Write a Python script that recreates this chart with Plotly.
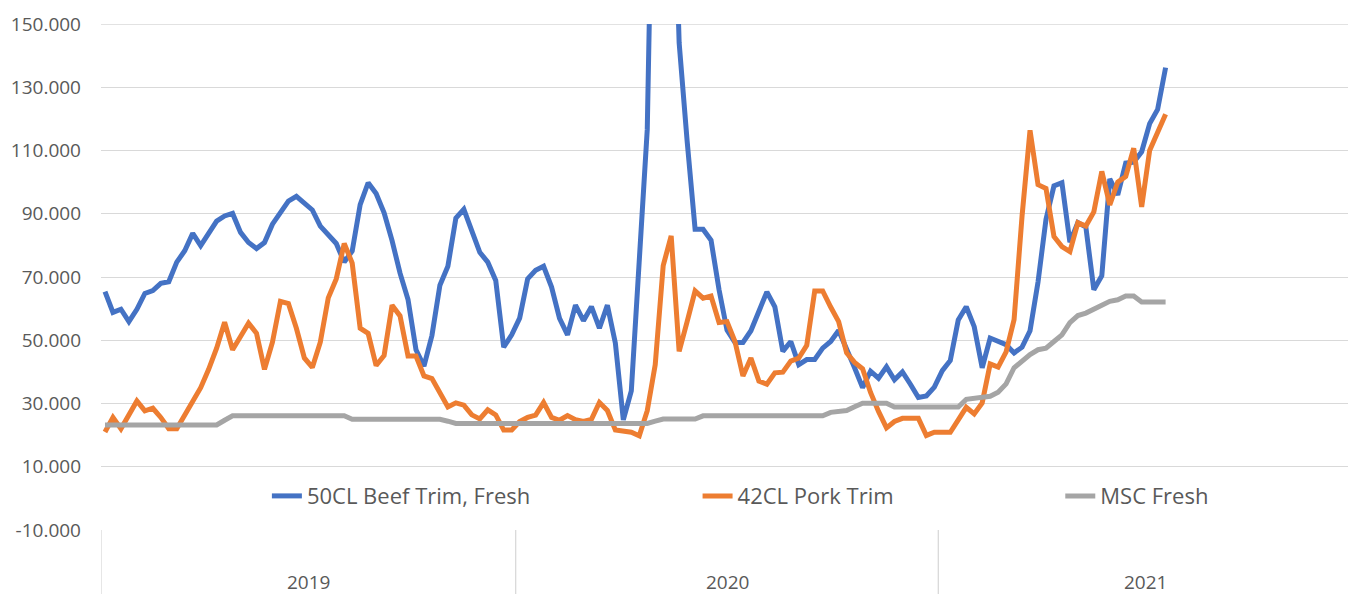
import plotly.graph_objects as go

# ---------------- data ----------------
YEARS = ["2019", "2020", "2021"]
WEEKS_PER_YEAR = [52, 53, 52]

SERIES_NAMES = ["50CL Beef Trim, Fresh", "42CL Pork Trim", "MSC Fresh"]

BEEF_50CL = [
    65.4, 58.8, 59.8, 55.9, 59.8, 64.8, 65.7, 68.0, 68.5, 74.7,
    78.3, 83.8, 79.9, 84.1, 87.7, 89.3, 90.1, 84.1, 80.9, 79.0,
    80.9, 86.7, 90.5, 94.0, 95.5, 93.3, 91.2, 86.1, 83.6, 80.6,
    74.7, 78.2, 92.9, 99.8, 96.4, 90.3, 81.5, 71.2, 62.9, 47.0,
    41.8, 51.5, 67.4, 73.4, 88.6, 91.4, 84.6, 77.8, 74.7, 68.9,
    47.8, 51.7, 57.0, 69.4, 72.1, 73.4, 66.8, 56.9, 51.7, 61.1,
    56.2, 60.6, 53.8, 61.1, 49.1, 24.8, 34.0, 74.0, 116.6, 250.0,
    262.0, 228.0, 144.0, 113.0, 85.1, 85.1, 81.6, 66.0, 53.2, 49.3,
    49.3, 53.0, 59.6, 65.3, 60.6, 46.5, 49.6, 42.3, 43.9, 43.9,
    47.5, 49.6, 53.1, 47.5, 41.3, 35.0, 40.2, 38.0, 41.6, 37.5,
    40.0, 36.1, 31.9, 32.4, 35.2, 40.4, 43.6, 56.4, 60.6, 54.3,
    41.3, 50.7, 49.6, 48.6, 46.0, 47.8, 53.0, 68.4, 88.2, 98.8,
    99.8, 81.0, 87.2, 85.8, 66.0, 70.4, 101.0, 96.0, 106.0, 106.3,
    109.6, 118.5, 123.0, 136.2,
]

PORK_42CL = [
    21.0, 25.6, 22.0, 26.5, 30.8, 27.7, 28.5, 25.6, 22.0, 22.0,
    26.2, 30.8, 35.0, 40.8, 47.5, 55.7, 47.0, 51.2, 55.4, 52.2,
    40.8, 49.4, 62.3, 61.6, 53.8, 44.4, 41.4, 49.4, 63.4, 69.4,
    80.6, 74.4, 53.8, 52.2, 42.0, 45.2, 61.1, 57.7, 45.0, 45.0,
    38.7, 37.9, 33.5, 28.9, 30.2, 29.5, 26.4, 25.1, 28.0, 26.4,
    21.6, 21.6, 24.3, 25.6, 26.3, 30.3, 25.6, 24.7, 26.2, 24.9,
    24.3, 25.0, 30.3, 27.8, 21.6, 21.4, 20.9, 19.8, 27.7, 42.3,
    73.6, 83.0, 46.5, 55.9, 65.6, 63.3, 64.0, 55.6, 55.9, 49.6,
    38.7, 44.4, 37.1, 36.1, 39.7, 39.9, 43.4, 44.4, 48.4, 65.6,
    65.6, 60.5, 55.9, 46.0, 43.0, 41.0, 33.5, 27.5, 22.3, 24.3,
    25.3, 25.3, 25.3, 19.9, 20.9, 20.9, 20.9, 24.8, 28.8, 26.7,
    30.2, 42.5, 41.5, 46.3, 56.5, 89.3, 116.4, 99.2, 98.0, 82.8,
    79.6, 78.0, 87.2, 86.1, 90.6, 103.4, 92.8, 100.0, 101.8, 110.7,
    92.2, 110.0, 115.6, 121.5,
]

MSC_FRESH = [
    23.2, 23.2, 23.2, 23.2, 23.2, 23.2, 23.2, 23.2, 23.2, 23.2,
    23.2, 23.2, 23.2, 23.2, 23.2, 24.7, 26.1, 26.1, 26.1, 26.1,
    26.1, 26.1, 26.1, 26.1, 26.1, 26.1, 26.1, 26.1, 26.1, 26.1,
    26.1, 25.0, 25.0, 25.0, 25.0, 25.0, 25.0, 25.0, 25.0, 25.0,
    25.0, 25.0, 25.0, 24.4, 23.7, 23.7, 23.7, 23.7, 23.7, 23.7,
    23.7, 23.7, 23.7, 23.7, 23.7, 23.7, 23.7, 23.7, 23.7, 23.7,
    23.7, 23.7, 23.7, 23.7, 23.7, 23.7, 23.7, 23.7, 23.7, 24.4,
    25.1, 25.1, 25.1, 25.1, 25.1, 26.1, 26.1, 26.1, 26.1, 26.1,
    26.1, 26.1, 26.1, 26.1, 26.1, 26.1, 26.1, 26.1, 26.1, 26.1,
    26.1, 27.2, 27.5, 27.8, 29.0, 30.1, 30.1, 30.1, 30.1, 28.9,
    28.9, 28.9, 28.9, 28.9, 28.9, 28.9, 28.9, 28.9, 31.3, 31.6,
    31.9, 32.3, 33.6, 36.2, 41.3, 43.5, 45.5, 47.0, 47.5, 49.6,
    51.7, 55.6, 57.8, 58.6, 60.0, 61.1, 62.3, 62.8, 64.0, 64.0,
    62.1, 62.1, 62.1, 62.1,
]

Y_TICKS = [-10, 10, 30, 50, 70, 90, 110, 130, 150]

# ---------------- style ----------------
COLORS = ["#4472C4", "#ED7D31", "#A5A5A5"]
FONT = "Open Sans"
TEXT_COLOR = "#595959"
GRID_COLOR = "#D9D9D9"

# category labels: one per week, grouped by year
week_labels = []
for yr, n in zip(YEARS, WEEKS_PER_YEAR):
    for w in range(1, n + 1):
        week_labels.append(f"{yr} W{w:02d}")

fig = go.Figure()
legend_ids = ["legend", "legend2", "legend3"]
for name, vals, color, lg in zip(SERIES_NAMES, [BEEF_50CL, PORK_42CL, MSC_FRESH], COLORS, legend_ids):
    fig.add_trace(go.Scatter(
        x=week_labels[:len(vals)], y=vals, mode="lines", name=name,
        line=dict(color=color, width=5), legend=lg,
    ))

# year group dividers and labels below the plot
shapes = []
annotations = []
start = 0
bounds = [-0.5]
for yr, n in zip(YEARS, WEEKS_PER_YEAR):
    annotations.append(dict(
        x=start + (n - 1) / 2, y=-0.102, xref="x", yref="paper",
        text=yr, showarrow=False, yanchor="middle",
        font=dict(family=FONT, size=19, color=TEXT_COLOR),
    ))
    start += n
    bounds.append(start - 0.5)
for b in bounds:
    shapes.append(dict(
        type="line", xref="x", yref="paper", x0=b, x1=b, y0=0, y1=-0.2,
        line=dict(color=GRID_COLOR, width=1.3), layer="below",
    ))

# top gridline (value 150) drawn explicitly so it is not lost at the plot edge
shapes.append(dict(
    type="line", xref="paper", yref="y", x0=0, x1=1, y0=Y_TICKS[-1], y1=Y_TICKS[-1],
    line=dict(color=GRID_COLOR, width=1.3), layer="below",
))

legend_common = dict(
    orientation="h", yanchor="middle", y=0.067, xanchor="left",
    bgcolor="rgba(0,0,0,0)", borderwidth=0,
    font=dict(family=FONT, size=22, color=TEXT_COLOR),
)

# the page body adds an 8px offset, so the figure is 8px smaller on each side
fig.update_layout(
    width=1348, height=586, autosize=False,
    margin=dict(l=92, r=3, t=13, b=64, pad=0),
    plot_bgcolor="white", paper_bgcolor="white",
    font=dict(family=FONT, color=TEXT_COLOR),
    showlegend=True,
    legend=dict(x=0.1325, **legend_common),
    legend2=dict(x=0.4765, **legend_common),
    legend3=dict(x=0.7662, **legend_common),
    xaxis=dict(
        type="category", categoryorder="array", categoryarray=week_labels,
        range=[-0.5, len(week_labels) - 0.5],
        showticklabels=False, showgrid=False, zeroline=False, showline=False, ticks="",
    ),
    yaxis=dict(
        range=[Y_TICKS[0], Y_TICKS[-1]],
        tickvals=Y_TICKS, ticktext=[f"{v:.3f}" for v in Y_TICKS],
        showgrid=True, gridcolor=GRID_COLOR, gridwidth=1.3,
        zeroline=False, showline=False, ticks="",
        ticklabelstandoff=19, ticklabeloverflow="allow",
        tickfont=dict(family=FONT, size=19, color=TEXT_COLOR),
    ),
    shapes=shapes,
    annotations=annotations,
)

fig.write_html("out.html")
